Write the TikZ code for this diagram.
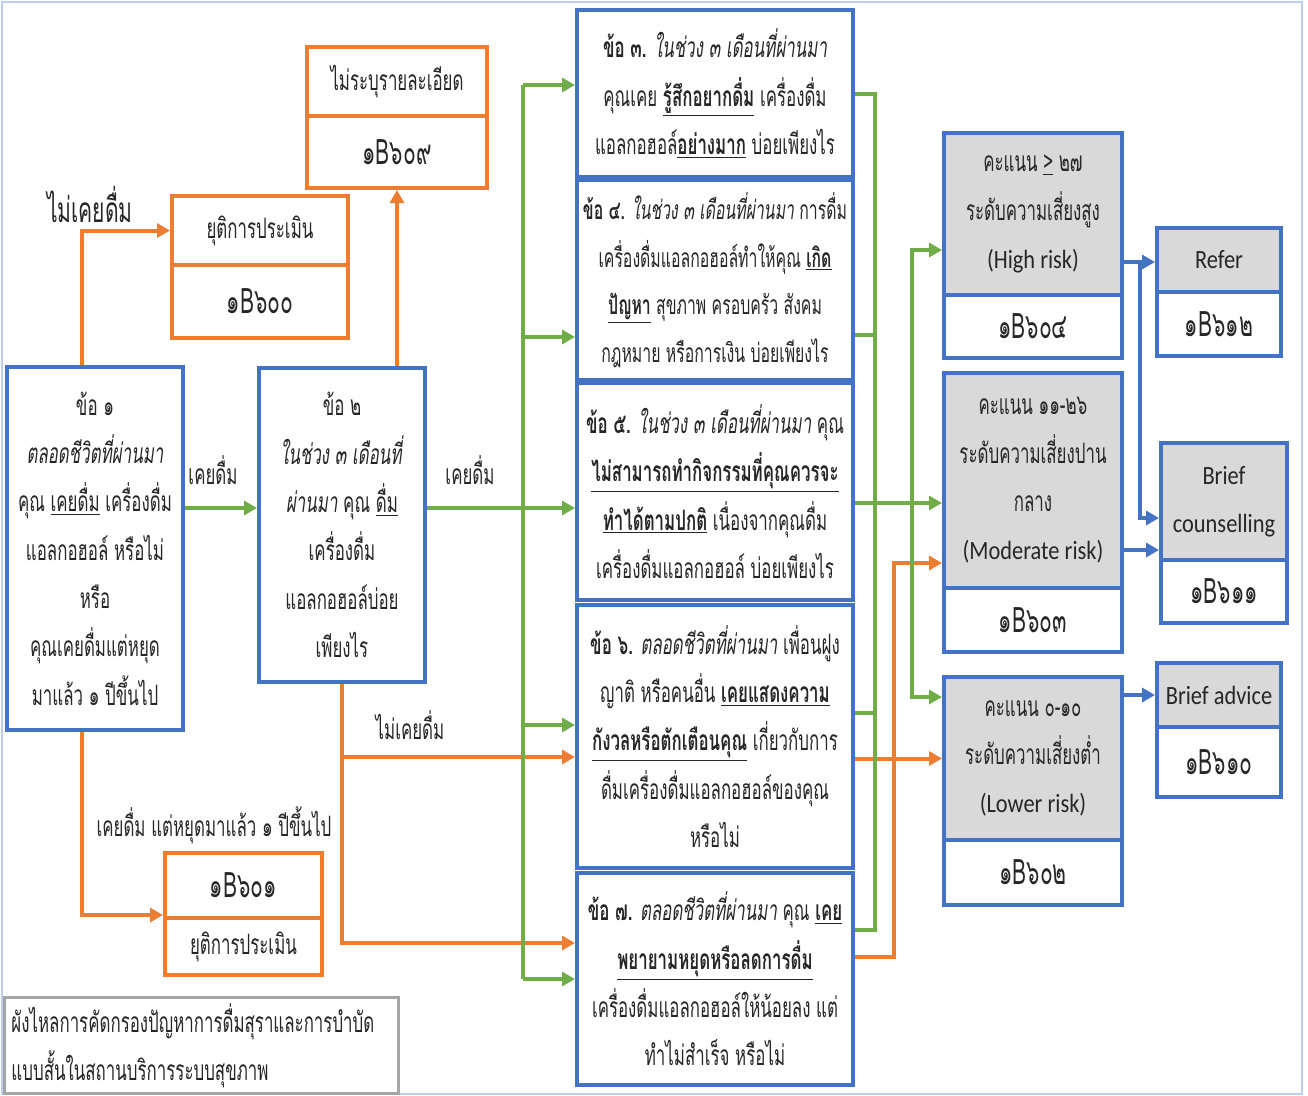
\documentclass[tikz,border=0pt]{standalone}
\usepackage{fontspec}
\setmainfont{Loma}[Script=Thai,FakeStretch=0.6]
\newfontfamily\enfont{Carlito}[FakeStretch=0.85]
\usepackage{tikz}
\usetikzlibrary{arrows.meta}
\usetikzlibrary{positioning}

\definecolor{qblue}{HTML}{4472C4}
\definecolor{qorange}{HTML}{ED7D31}
\definecolor{qgreen}{HTML}{70AD47}
\definecolor{qgray}{HTML}{D9D9D9}
\definecolor{qframe}{HTML}{A5A5A5}
\definecolor{qtext}{HTML}{262626}

\tikzset{
	txt/.style={font=\fontsize{16}{27.5}\selectfont, text=qtext},
	codetxt/.style={font=\fontsize{20}{22}\selectfont},
	entxt/.style={font=\enfont\fontsize{15}{27.5}\selectfont},
	bluebox/.style={txt, draw=qblue, line width=0.8mm, fill=white, align=center, inner sep=1pt},
	graybox/.style={bluebox, fill=qgray},
	orangebox/.style={txt, draw=qorange, line width=0.8mm, fill=white, align=center, inner sep=1pt},
	oarrow/.style={draw=qorange, line width=0.8mm, -{Triangle[length=2.6mm,width=2.8mm]}},
	garrow/.style={draw=qgreen, line width=0.8mm, -{Triangle[length=2.6mm,width=2.8mm]}},
	barrow/.style={draw=qblue, line width=0.8mm, -{Triangle[length=2.6mm,width=2.8mm]}},
	gline/.style={draw=qgreen, line width=0.8mm}
}

\begin{document}
\begin{tikzpicture}[x=0.2mm,y=-0.2mm]
	\useasboundingbox (0,0) rectangle (1308,1095);
	\draw[qblue!35, line width=0.3mm] (2,2) rectangle (1302,1094);

	% first two questions
	\begin{scope}[every node/.style={bluebox}]
		\node[minimum width=35.2mm, minimum height=72.6mm] (q1) at (95,548.5)
			{ข้อ ๑\\ \textit{ตลอดชีวิตที่ผ่านมา}\\ คุณ \underline{เคยดื่ม} เครื่องดื่ม\\ แอลกอฮอล์ หรือไม่\\ หรือ\\ คุณเคยดื่มแต่หยุด\\ มาแล้ว ๑ ปีขึ้นไป};
		\node[minimum width=33.2mm, minimum height=62.8mm] (q2) at (342,525)
			{ข้อ ๒\\ \textit{ในช่วง ๓ เดือนที่}\\ \textit{ผ่านมา} คุณ \underline{ดื่ม}\\ เครื่องดื่ม\\ แอลกอฮอล์บ่อย\\ เพียงไร};
	\end{scope}

	% orange end boxes
	\begin{scope}[every node/.style={orangebox}]
		\node[minimum width=35.2mm, minimum height=13.8mm] (stopA) at (260,230.5) {ยุติการประเมิน};
		\node[codetxt, minimum width=35.2mm, minimum height=14.6mm] (codeA) at (260,301.5) {๑B๖๐๐};
		\node[minimum width=36mm, minimum height=13.8mm] (unspec) at (397,81.5) {ไม่ระบุรายละเอียด};
		\node[codetxt, minimum width=36mm, minimum height=14.4mm] (codeU) at (397,152) {๑B๖๐๙};
		\node[codetxt, minimum width=31.4mm, minimum height=13mm] (codeB) at (243.5,885.5) {๑B๖๐๑};
		\node[minimum width=31.4mm, minimum height=11.4mm] (stopB) at (243.5,946.5) {ยุติการประเมิน};
	\end{scope}

	\node[txt, draw=qframe, line width=0.6mm, fill=white, align=left, minimum width=78.6mm, minimum height=19mm, text width=76mm] (note) at (201.5,1045.5)
		{ผังไหลการคัดกรองปัญหาการดื่มสุราและการบำบัด\\ แบบสั้นในสถานบริการระบบสุขภาพ};

	% questions 3 to 7
	\begin{scope}[every node/.style={bluebox, minimum width=55.2mm}]
		\node[minimum height=33.4mm] (q3) at (715,93.5)
			{\textbf{ข้อ ๓.} \textit{ในช่วง ๓ เดือนที่ผ่านมา}\\ คุณเคย \textbf{\underline{รู้สึกอยากดื่ม}} เครื่องดื่ม\\ แอลกอฮอล์\textbf{\underline{อย่างมาก}} บ่อยเพียงไร};
		\node[minimum height=40mm, font=\fontsize{15}{27}\selectfont] (q4) at (715,280)
			{\textbf{ข้อ ๔.} \textit{ในช่วง ๓ เดือนที่ผ่านมา} การดื่ม\\ เครื่องดื่มแอลกอฮอล์ทำให้คุณ \textbf{\underline{เกิด}}\\ \textbf{\underline{ปัญหา}} สุขภาพ ครอบครัว สังคม\\ กฎหมาย หรือการเงิน บ่อยเพียงไร};
		\node[minimum height=43.4mm] (q5) at (715,491.5)
			{\textbf{ข้อ ๕.} \textit{ในช่วง ๓ เดือนที่ผ่านมา} คุณ\\ \textbf{\underline{ไม่สามารถทำกิจกรรมที่คุณควรจะ}}\\ \textbf{\underline{ทำได้ตามปกติ}} เนื่องจากคุณดื่ม\\ เครื่องดื่มแอลกอฮอล์ บ่อยเพียงไร};
		\node[minimum height=52.6mm] (q6) at (715,736.5)
			{\textbf{ข้อ ๖.} \textit{ตลอดชีวิตที่ผ่านมา} เพื่อนฝูง\\ ญาติ หรือคนอื่น \textbf{\underline{เคยแสดงความ}}\\ \textbf{\underline{กังวลหรือตักเตือนคุณ}} เกี่ยวกับการ\\ ดื่มเครื่องดื่มแอลกอฮอล์ของคุณ\\ หรือไม่};
		\node[minimum height=42.4mm] (q7) at (715,979)
			{\textbf{ข้อ ๗.} \textit{ตลอดชีวิตที่ผ่านมา} คุณ \textbf{\underline{เคย}}\\ \textbf{\underline{พยายามหยุดหรือลดการดื่ม}}\\ เครื่องดื่มแอลกอฮอล์ให้น้อยลง แต่\\ ทำไม่สำเร็จ หรือไม่};
	\end{scope}

	% risk levels
	\begin{scope}[every node/.style={bluebox, minimum width=35.6mm}]
		\node[graybox, minimum height=32.4mm] (high) at (1033,214)
			{คะแนน \underline{>} ๒๗\\ ระดับความเสี่ยงสูง\\ {\enfont\fontsize{15}{27.5}\selectfont (High risk)}};
		\node[codetxt, minimum height=12.6mm] (codeH) at (1033,326.5) {๑B๖๐๔};
		\node[graybox, minimum height=43mm] (mod) at (1033,480.5)
			{คะแนน ๑๑-๒๖\\ ระดับความเสี่ยงปาน\\ กลาง\\ {\enfont\fontsize{15}{27.5}\selectfont (Moderate risk)}};
		\node[codetxt, minimum height=12.8mm] (codeM) at (1033,620) {๑B๖๐๓};
		\node[graybox, minimum height=32.6mm] (low) at (1033,758.5)
			{คะแนน ๐-๑๐\\ ระดับความเสี่ยงต่ำ\\ {\enfont\fontsize{15}{27.5}\selectfont (Lower risk)}};
		\node[codetxt, minimum height=13mm] (codeL) at (1033,872.5) {๑B๖๐๒};
	\end{scope}

	% interventions
	\begin{scope}[every node/.style={bluebox, minimum width=24.8mm}]
		\node[graybox, entxt, minimum height=12.8mm] (refer) at (1219,260) {Refer};
		\node[codetxt, minimum height=12.8mm] (codeR) at (1219,324) {๑B๖๑๒};
		\node[graybox, entxt, minimum width=25.2mm, minimum height=23.4mm] (bc) at (1224,501.5) {Brief\\ counselling};
		\node[codetxt, minimum width=25.2mm, minimum height=12.6mm] (codeC) at (1224,591.5) {๑B๖๑๑};
		\node[graybox, entxt, minimum height=12.8mm] (ba) at (1219,695) {Brief advice};
		\node[codetxt, minimum height=14mm] (codeA2) at (1219,762) {๑B๖๑๐};
	\end{scope}

	% labels
	\begin{scope}[every node/.style={txt}]
		\node[font=\fontsize{20}{22}\selectfont] (lnever1) at (90,205) {ไม่เคยดื่ม};
		\node (ldrink1) at (213,470) {เคยดื่ม};
		\node (ldrink2) at (470,470) {เคยดื่ม};
		\node (lnever2) at (410,725) {ไม่เคยดื่ม};
		\node (lstopped) at (214,825) {เคยดื่ม แต่หยุดมาแล้ว ๑ ปีขึ้นไป};
	\end{scope}

	% entry points
	\coordinate (q2in) at ([yshift=3.4mm]q2.west);
	\coordinate (q5in) at ([yshift=-3.3mm]q5.west);
	\coordinate (q3in) at ([yshift=1.7mm]q3.west);
	\coordinate (q4in) at ([yshift=-11.4mm]q4.west);
	\coordinate (q6in) at ([yshift=2.3mm]q6.west);
	\coordinate (q7in) at (q7.west);
	\coordinate (q4out) at ([yshift=-11mm]q4.east);
	\coordinate (q6out) at ([yshift=4.7mm]q6.east);
	\coordinate (q7g) at ([yshift=9.8mm]q7.east);
	\coordinate (gbus) at (523,0);
	\coordinate (rbus) at (875,0);
	\coordinate (modg) at ([yshift=-4.5mm]mod.west);
	\coordinate (gsplit) at ([xshift=-6mm]modg);
	\coordinate (highin) at ([yshift=-7.2mm]high.west);
	\coordinate (lowin) at ([yshift=12.3mm]low.west);
	\coordinate (modo) at ([yshift=-16.5mm]mod.west);
	\coordinate (q7o) at ([yshift=4.4mm]q7.east);
	\coordinate (hout) at ([yshift=-9.6mm]high.east);
	\coordinate (bcin) at ([yshift=-3.3mm]bc.west);
	\coordinate (bcin2) at ([yshift=-9.7mm]bc.west);

	% orange connectors
	\draw[oarrow] ([xshift=-2.6mm]q1.north) |- (stopA.west);
	\draw[oarrow] (codeU.south |- q2.north) -- (codeU.south);
	\draw[oarrow] ([xshift=-2.6mm]q1.south) |- ([yshift=1mm]codeB.south west);
	\draw[oarrow] (q2.south) |- ([yshift=-4.1mm]q6.west);
	\draw[oarrow] (q2.south) |- ([yshift=7.2mm]q7.west);
	\draw[oarrow] (q6.east |- low.west) -- (low.west);
	\draw[oarrow] (q7o) -| ([xshift=-9.6mm]modo) -- (modo);

	% green connectors
	\draw[garrow] (q1.east |- q2in) -- (q2in);
	\draw[garrow] (q2.east |- q5in) -- (q5in);
	\draw[gline] (gbus |- q3in) -- (gbus |- q7in);
	\foreach \t in {q3in,q4in,q6in,q7in}
		\draw[garrow] (gbus |- \t) -- (\t);
	\draw[gline] (q3.east) -| (rbus |- q7g) -- (q7g);
	\draw[gline] (q4out) -- (rbus |- q4out);
	\draw[gline] (q6out) -- (rbus |- q6out);
	\draw[garrow] (q5.east |- modg) -- (modg);
	\draw[garrow] (gsplit) |- (highin);
	\draw[garrow] (gsplit) |- (lowin);

	% blue connectors
	\draw[barrow] (hout) -- (refer.west |- hout);
	\draw[barrow] ([xshift=3.2mm]hout) |- (bcin);
	\draw[barrow] (mod.east |- bcin2) -- (bcin2);
	\draw[barrow] (low.east |- ba.west) -- (ba.west);
\end{tikzpicture}
\end{document}
